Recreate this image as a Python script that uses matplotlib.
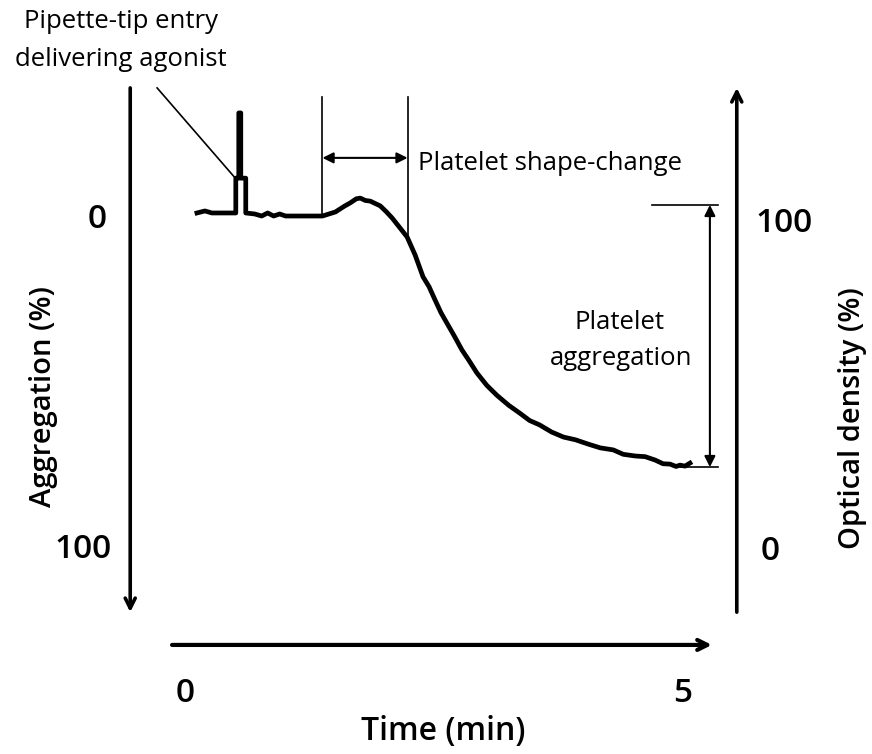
import matplotlib.pyplot as plt

# trace of a light transmission aggregometry run (time in min, aggregation in %)
time_min = [0.12, 0.20, 0.27, 0.51, 0.51, 0.54, 0.54, 0.56, 0.56, 0.61, 0.61,
            0.70, 0.77, 0.83, 0.89, 0.95, 1.01, 1.20, 1.38, 1.51, 1.60, 1.66,
            1.72, 1.76, 1.81, 1.86, 1.96, 2.02, 2.08, 2.15, 2.23, 2.31, 2.39,
            2.45, 2.51, 2.57, 2.63, 2.70, 2.78, 2.85, 2.93, 3.03, 3.13, 3.25,
            3.36, 3.46, 3.56, 3.68, 3.80, 3.92, 4.05, 4.17, 4.30, 4.40, 4.52,
            4.62, 4.72, 4.80, 4.87, 4.93, 4.97, 5.02, 5.07]
aggregation = [-0.6, -1.2, -0.6, -0.6, -10.9, -10.9, -30.2, -30.2, -10.9, -10.9, -0.6,
               -0.3, 0.3, -0.6, 0.3, -0.3, 0.3, 0.3, 0.3, -0.9, -2.6, -3.6,
               -4.8, -5.0, -4.3, -4.1, -2.7, -1.0, 0.9, 3.5, 6.5, 11.8, 18.3,
               21.2, 25.1, 28.9, 32.0, 35.6, 39.9, 43.0, 46.7, 50.4, 53.3, 56.3,
               58.6, 60.8, 62.1, 64.2, 65.7, 66.5, 67.8, 68.9, 69.5, 70.8, 71.3,
               71.5, 72.5, 73.6, 73.7, 74.4, 74.0, 74.3, 73.4]

left_ticks = ["0", "100"]
right_ticks = ["100", "0"]
x_ticks = ["0", "5"]

W, H = 872, 754
fig = plt.figure(figsize=(W / 100, H / 100), dpi=100)
ax = fig.add_axes([0, 0, 1, 1])
# pixel 185 -> 0 min, 99.6 px per min; pixel 215 -> 0 %, 3.38 px per %
ax.set_xlim((0 - 185) / 99.6, (W - 185) / 99.6)
ax.set_ylim((H - 215) / 3.38, (0 - 215) / 3.38)
ax.axis("off")

font = "Open Sans"
ax.plot(time_min, aggregation, color="black", lw=3.4, solid_joinstyle="round")


def arrow(x0, y0, x1, y1, lw=2.6, style="->", ms=18):
    ax.annotate("", xy=(x1, y1), xytext=(x0, y0),
                arrowprops=dict(arrowstyle=style, lw=lw, color="black",
                                mutation_scale=ms, shrinkA=0, shrinkB=0))


# axes arrows
arrow(-0.55, -37.6, -0.55, 117.5)
arrow(5.54, 117.5, 5.54, -37.6)
arrow(-0.13, 127.2, 5.29, 127.2, lw=3.0)

# shape-change bracket
ax.plot([1.375, 1.375], [-34.9, 0.3], color="black", lw=1.2)
ax.plot([2.24, 2.24], [-34.9, 5.9], color="black", lw=1.2)
ax.annotate("", xy=(2.235, -16.9), xytext=(1.38, -16.9),
            arrowprops=dict(arrowstyle="<|-|>", lw=1.5, color="black",
                            mutation_scale=16, shrinkA=0, shrinkB=0))

# aggregation bracket
ax.plot([4.69, 5.35], [-3.0, -3.0], color="black", lw=1.2)
ax.plot([4.97, 5.35], [74.6, 74.6], color="black", lw=1.2)
ax.annotate("", xy=(5.27, 74.6), xytext=(5.27, -3.0),
            arrowprops=dict(arrowstyle="<|-|>", lw=1.5, color="black",
                            mutation_scale=16, shrinkA=0, shrinkB=0))

# pipette pointer
ax.plot([-0.28, 0.52], [-37.6, -10.4], color="black", lw=1.2)


def txt(px, py, s, size, **kw):
    fig.text(px / W, 1 - py / H, s, fontsize=size, family=font,
             ha=kw.pop("ha", "center"), va=kw.pop("va", "center"), **kw)


txt(121, 22, "Pipette-tip entry", 18.5)
txt(121, 60, "delivering agonist", 18.5)
txt(418, 164, "Platelet shape-change", 18.5, ha="left")
txt(619, 322, "Platelet", 18.5)
txt(621, 358, "aggregation", 18.5)

txt(97, 220, left_ticks[0], 24, weight="semibold")
txt(83, 550, left_ticks[1], 24, weight="semibold")
txt(784, 223, right_ticks[0], 24, weight="semibold")
txt(770, 552, right_ticks[1], 24, weight="semibold")
txt(185, 693, x_ticks[0], 24, weight="semibold")
txt(683, 693, x_ticks[1], 24, weight="semibold")

txt(443, 732, "Time (min)", 23, weight="semibold")
txt(43, 397, "Aggregation (%)", 21, weight="semibold", rotation=90)
txt(852, 418, "Optical density (%)", 21, weight="semibold", rotation=90)

fig.savefig("out.png", dpi=100)
